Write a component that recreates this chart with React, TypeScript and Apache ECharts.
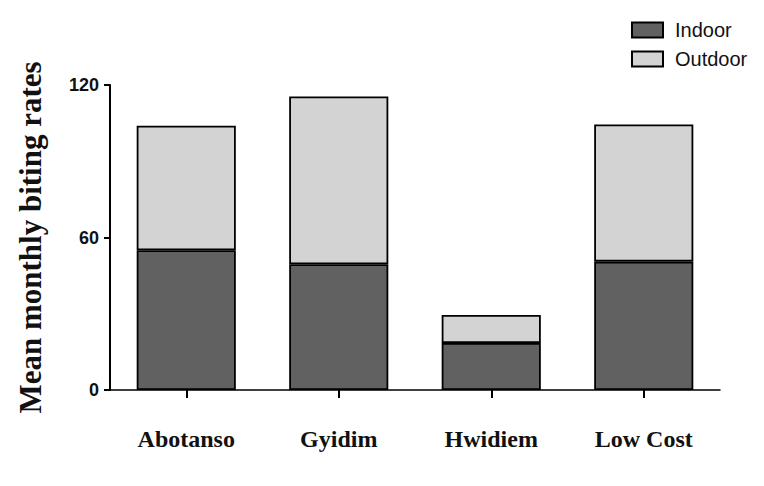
import React, { useEffect, useRef } from "react";
import * as echarts from "echarts";

const categories = ["Abotanso", "Gyidim", "Hwidiem", "Low Cost"];
const indoor = [55, 49.5, 18.5, 50.5];
const outdoor = [49, 66, 11, 54];
const yTicks = [0, 60, 120];

export default function App() {
  const ref = useRef<HTMLDivElement>(null);
  useEffect(() => {
    if (!ref.current) return;
    const chart = echarts.init(ref.current, undefined, { renderer: "svg" });
    chart.setOption({
      animation: false,
      backgroundColor: "#ffffff",
      legend: {
        orient: "vertical",
        left: 626,
        top: 15,
        icon: "rect",
        itemWidth: 31,
        itemHeight: 15,
        itemGap: 9,
        itemStyle: { borderColor: "#000", borderWidth: 2 },
        textStyle: {
          fontSize: 20,
          color: "#111",
          fontFamily: "Liberation Sans, Arial, sans-serif",
          padding: [0, 0, 0, 7],
        },
        data: ["Indoor", "Outdoor"],
      },
      grid: { left: 110, right: 44, top: 85, bottom: 96 },
      xAxis: {
        type: "category",
        data: categories,
        axisLine: { lineStyle: { color: "#000", width: 1.5 } },
        axisTick: { show: true, alignWithLabel: true, length: 8, lineStyle: { color: "#000", width: 2 } },
        axisLabel: {
          margin: 37,
          fontSize: 24,
          fontWeight: "bold",
          color: "#111",
          fontFamily: "Liberation Serif, Times New Roman, serif",
        },
      },
      yAxis: {
        type: "value",
        min: yTicks[0],
        max: yTicks[yTicks.length - 1],
        interval: 60,
        name: "Mean monthly biting rates",
        nameLocation: "middle",
        nameGap: 64,
        nameTextStyle: {
          fontSize: 31,
          fontWeight: "bold",
          color: "#111",
          fontFamily: "Liberation Serif, Times New Roman, serif",
        },
        axisLine: { show: true, lineStyle: { color: "#000", width: 2 } },
        axisTick: { show: true, length: 6, lineStyle: { color: "#000", width: 2 } },
        splitLine: { show: false },
        axisLabel: {
          fontSize: 18,
          fontWeight: "bold",
          color: "#111",
          margin: 11,
          fontFamily: "Liberation Sans, Arial, sans-serif",
        },
      },
      series: [
        {
          name: "Indoor",
          type: "bar",
          stack: "total",
          data: indoor,
          barWidth: "65%",
          itemStyle: { color: "#616161", borderColor: "#000", borderWidth: 1.8 },
        },
        {
          name: "Outdoor",
          type: "bar",
          stack: "total",
          data: outdoor,
          barWidth: "65%",
          itemStyle: { color: "#d3d3d3", borderColor: "#000", borderWidth: 1.8 },
        },
      ],
    });
    return () => chart.dispose();
  }, []);
  return <div ref={ref} style={{ width: 764, height: 486, position: "absolute", left: 0, top: 0 }} />;
}
